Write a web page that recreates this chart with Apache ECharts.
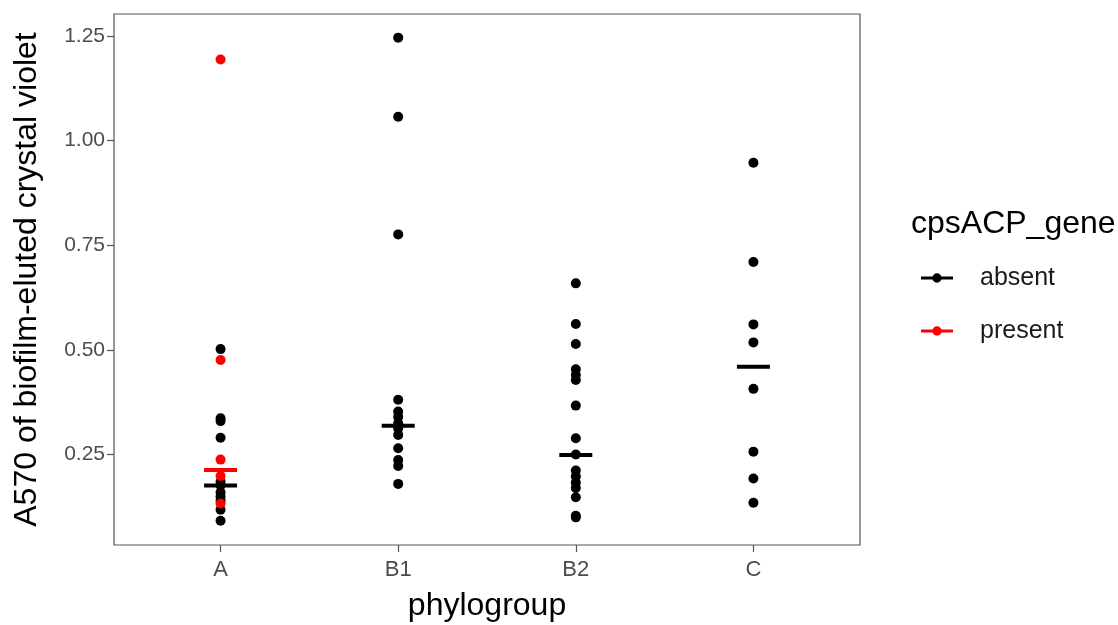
<!DOCTYPE html>
<html>
<head>
<meta charset="utf-8">
<script src="https://cdn.jsdelivr.net/npm/echarts@6/dist/echarts.min.js"></script>
<style>
  html, body { margin: 0; padding: 0; background: #fff; }
  #chart { width: 1118px; height: 625px; }
</style>
</head>
<body>
<div id="chart"></div>
<script>
// phylogroups on the x axis
const categories = ['A', 'B1', 'B2', 'C']
const yTicks = [0.25, 0.5, 0.75, 1.0, 1.25]

// A570 values, cpsACP_gene absent
const absentA = [0.502, 0.337, 0.330, 0.290, 0.185, 0.176, 0.160, 0.150, 0.140, 0.118, 0.092]
const absentB1 = [1.246, 1.057, 0.776, 0.381, 0.353, 0.340, 0.325, 0.313, 0.297, 0.265, 0.237, 0.223, 0.180]
const absentB2 = [0.659, 0.562, 0.514, 0.454, 0.440, 0.428, 0.367, 0.289, 0.250, 0.212, 0.198, 0.183, 0.170, 0.148, 0.104, 0.100]
const absentC = [0.947, 0.710, 0.561, 0.518, 0.407, 0.257, 0.193, 0.135]
// cpsACP_gene present (only in A)
const presentA = [1.194, 0.476, 0.238, 0.199, 0.133]

// median bars
const absentMedian = [0.176, 0.319, 0.249, 0.460]
const presentMedian = [0.213, null, null, null]

const absentGroups = [absentA, absentB1, absentB2, absentC]
const presentGroups = [presentA, [], [], []]

function toPoints(groups) {
  let pts = []
  groups.forEach((vals, i) => {
    vals.forEach((v) => pts.push([i + 1, v]))
  })
  return pts
}
function toBars(meds) {
  let pts = []
  meds.forEach((v, i) => {
    if (v !== null) pts.push([i + 1, v])
  })
  return pts
}

const font = 'Liberation Sans, Arial, sans-serif'
const legendIcon = 'path://M0,3.5H34V6.5H0Z M12,5A5,5 0 1,1 22,5A5,5 0 1,1 12,5Z'

let myChart = echarts.init(document.getElementById('chart'))
let option = {
  animation: false,
  backgroundColor: '#fff',
  textStyle: { fontFamily: font },
  title: {
    text: 'cpsACP_gene',
    left: 911,
    top: 208,
    padding: 0,
    textStyle: { fontFamily: font, fontSize: 32, fontWeight: 'normal', color: '#000' }
  },
  legend: {
    orient: 'vertical',
    left: 921,
    top: 263,
    padding: 0,
    itemWidth: 32,
    itemHeight: 10,
    itemGap: 23,
    data: [
      { name: 'absent', icon: legendIcon, itemStyle: { color: '#000' } },
      { name: 'present', icon: legendIcon, itemStyle: { color: '#ff0000' } }
    ],
    textStyle: { fontFamily: font, fontSize: 25, color: '#1a1a1a', lineHeight: 30, padding: [0, 0, 0, 22] }
  },
  grid: {
    left: 114,
    top: 14,
    right: 258,
    bottom: 80,
    show: true,
    borderColor: '#555',
    borderWidth: 1.2,
    containLabel: false,
    outerBoundsMode: 'none'
  },
  xAxis: {
    type: 'value',
    min: 0.4,
    max: 4.6,
    name: 'phylogroup',
    nameLocation: 'middle',
    nameGap: 45,
    nameTextStyle: { fontFamily: font, fontSize: 32, color: '#000' },
    axisLine: { show: false },
    splitLine: { show: false },
    axisTick: { show: true, length: 7, customValues: [1, 2, 3, 4], lineStyle: { color: '#555', width: 1.2 } },
    axisLabel: {
      customValues: [1, 2, 3, 4],
      margin: 14,
      fontFamily: font,
      fontSize: 22,
      color: '#4d4d4d',
      formatter: (v) => categories[Math.round(v) - 1]
    }
  },
  yAxis: {
    type: 'value',
    min: 0.034,
    max: 1.3025,
    name: 'A570 of biofilm-eluted crystal violet',
    nameLocation: 'middle',
    nameRotate: 90,
    nameGap: 71,
    nameTextStyle: { fontFamily: font, fontSize: 32, color: '#000' },
    axisLine: { show: false },
    splitLine: { show: false },
    axisTick: { show: true, length: 7, customValues: yTicks, lineStyle: { color: '#555', width: 1.2 } },
    axisLabel: {
      customValues: yTicks,
      margin: 9,
      fontFamily: font,
      fontSize: 21,
      color: '#4d4d4d',
      formatter: (v) => v.toFixed(2)
    }
  },
  series: [
    {
      name: 'absent',
      type: 'scatter',
      symbol: 'circle',
      symbolSize: 10,
      itemStyle: { color: '#000', opacity: 1 },
      data: toPoints(absentGroups),
      z: 2
    },
    {
      name: 'present',
      type: 'scatter',
      symbol: 'circle',
      symbolSize: 10,
      itemStyle: { color: '#ff0000', opacity: 1 },
      data: toPoints(presentGroups),
      z: 3
    },
    {
      name: 'absent',
      type: 'scatter',
      symbol: 'rect',
      symbolSize: [33, 4],
      itemStyle: { color: '#000', opacity: 1 },
      data: toBars(absentMedian),
      z: 4
    },
    {
      name: 'present',
      type: 'scatter',
      symbol: 'rect',
      symbolSize: [33, 4],
      itemStyle: { color: '#ff0000', opacity: 1 },
      data: toBars(presentMedian),
      z: 4
    }
  ]
}
myChart.setOption(option)
</script>
</body>
</html>
